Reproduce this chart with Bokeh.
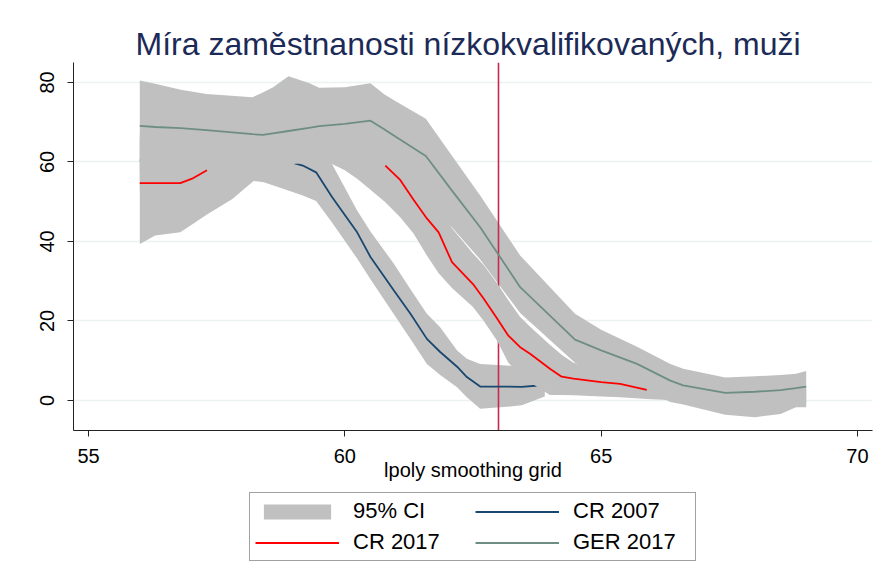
import numpy as np
from bokeh.plotting import figure
from bokeh.layouts import column
from bokeh.models import Range1d, FixedTicker, Legend, LegendItem
from bokeh.embed import file_html
from bokeh.resources import INLINE

NaN = float("nan")

title_text = "Míra zaměstnanosti nízkokvalifikovaných, muži"
x_label = "lpoly smoothing grid"
x_ticks = [55, 60, 65, 70]
y_ticks = [0, 20, 40, 60, 80]
cutoff_age = [63]
legend_labels = ["95% CI", "CR 2007", "CR 2017", "GER 2017"]

# CR 2007
age_cr07 = [56.0, 57.0, 58.0, 58.22, 58.42, 58.81, 59.18, 59.44, 59.75, 60.24, 60.5,
            60.95, 61.28, 61.6, 61.86, 62.19, 62.38, 62.64, 63.16, 63.45, 63.9]
rate_cr07 = [60.4, 61.0, 61.5, 61.5, 61.3, 60.4, 59.1, 57.4, 51.2, 42.3, 36.1,
             27.8, 21.8, 15.5, 12.2, 8.5, 5.9, 3.5, 3.5, 3.4, 3.9]
lo_cr07 = [53.0, 53.8, 54.3, 55.2, 54.9, 53.2, 51.6, 50.2, 44.8, 35.7, 30.5,
           21.8, 15.5, 9.2, 6.4, 3.3, 0.8, -2.1, -1.6, -1.2, 1.0]
hi_cr07 = [67.0, 67.5, 68.0, 68.0, 67.5, 66.0, 64.0, 61.5, 59.5, 47.8, 42.5,
           34.5, 28.0, 21.8, 18.4, 12.6, 10.5, 9.2, 8.8, 8.5, 8.0]

# CR 2017 (line hidden behind the bands where not visible -> missing)
age_cr17 = [56.0, 56.3, 56.79, 57.02, 57.31, 57.8, 58.22, 58.6, 59.0, 59.4, 59.75,
            60.0, 60.24, 60.5, 60.79, 61.08, 61.34, 61.6, 61.83, 62.09, 62.5, 62.71,
            62.97, 63.19, 63.42, 63.62, 64.0, 64.23, 64.46, 65.0, 65.37, 65.89, 66.5,
            67.0, 68.0, 68.75, 69.0]
rate_cr17 = [54.7, 54.7, 54.7, 55.8, 57.9, NaN, NaN, NaN, NaN, NaN, NaN,
             NaN, NaN, NaN, 59.1, 55.5, 50.5, 45.8, 42.3, 34.8, 29.3, 25.6,
             20.6, 16.3, 13.4, 11.7, 8.0, 6.0, 5.5, 4.6, 4.2, 2.7, NaN,
             NaN, NaN, NaN, NaN]
lo_cr17 = [39.4, 41.5, 42.3, 44.3, 46.8, 50.6, 55.2, 58.0, 59.5, 60.0, 59.5,
           57.9, 55.8, 53.0, 49.9, 46.1, 42.0, 36.5, 32.0, 28.3, 23.5, 20.0,
           15.0, 9.5, 6.5, 4.5, 1.4, 1.35, 1.3, 1.0, 0.8, 0.4, 0.0,
           -0.8, -1.5, -1.3, -1.0]
hi_cr17 = [66.0, 66.0, 66.0, 66.0, 66.0, 66.0, 66.0, 66.0, 66.5, 67.0, 67.5,
           67.5, 67.5, 67.5, 67.0, 65.0, 60.0, 55.0, 50.0, 43.3, 37.0, 34.0,
           29.5, 25.2, 21.0, 18.5, 14.0, 11.5, 9.5, 8.0, 7.0, 5.5, 4.5,
           3.8, 3.2, 3.0, 3.0]

# GER 2017
age_ger = [56.0, 56.3, 56.8, 57.3, 58.2, 58.4, 58.6, 58.9, 59.3, 59.5, 60.0, 60.5,
           60.76, 61.0, 61.58, 62.09, 62.64, 63.42, 64.49, 65.0, 65.7, 66.35, 66.6,
           67.42, 68.0, 68.5, 68.8, 69.0]
rate_ger = [69.1, 68.8, 68.5, 68.0, 67.0, 66.8, 67.2, 67.8, 68.6, 69.0, 69.6, 70.4,
            68.3, 66.3, 61.5, 52.8, 43.6, 28.5, 15.3, 12.6, 9.2, 5.0, 3.8,
            1.9, 2.2, 2.6, 3.1, 3.5]
lo_ger = [57.5, 57.6, 57.8, 58.0, 58.3, 58.5, 58.7, 59.0, 59.4, 59.6, 60.2, 61.0,
          60.0, 58.0, 52.5, 43.5, 35.5, 22.0, 9.5, 6.5, 3.6, -0.4, -1.0,
          -3.6, -4.2, -3.4, -1.7, -1.7]
hi_ger = [80.5, 79.7, 78.2, 77.1, 76.3, 77.5, 78.8, 81.6, 79.9, 78.7, 78.8, 79.8,
          77.1, 75.2, 70.9, 61.6, 51.6, 36.5, 21.8, 17.8, 13.5, 9.2, 8.0,
          5.8, 6.1, 6.4, 6.7, 7.4]

BAND = "#c0c0c0"
C07 = "#1a476f"
C17 = "#ff0000"
CGER = "#6e8e84"
VLINE = "#c8284e"
FONT = "Liberation Sans"
LW = 1.8

p = figure(width=878, height=490, output_backend="svg", toolbar_location=None,
           x_range=Range1d(54.707, 70.293), y_range=Range1d(-7.55, 85.03),
           min_border_left=73, min_border_right=6, min_border_top=62, min_border_bottom=60,
           title=title_text)
p.background_fill_color = "white"
p.border_fill_color = "white"
p.outline_line_color = None

p.title.align = "left"
p.title.offset = 62
p.title.text_font = FONT
p.title.text_font_size = "32px"
p.title.text_font_style = "normal"
p.title.text_color = "#1c2a57"
p.title.standoff = 2

p.xgrid.grid_line_color = None
p.ygrid.grid_line_color = "#eaf2f3"
p.ygrid.grid_line_width = 1.5

for ax in (p.xaxis, p.yaxis):
    ax.axis_line_color = "#222222"
    ax.axis_line_width = 1
    ax.major_tick_line_color = "#222222"
    ax.major_tick_out = 6
    ax.major_tick_in = 0
    ax.minor_tick_line_color = None
    ax.major_label_text_font = FONT
    ax.major_label_text_font_size = "20px"
    ax.major_label_text_color = "black"

p.xaxis.ticker = FixedTicker(ticks=x_ticks)
p.yaxis.ticker = FixedTicker(ticks=y_ticks)
p.yaxis.major_label_orientation = "vertical"
p.yaxis.major_label_standoff = 13
p.xaxis.major_label_standoff = 12
p.xaxis.axis_label = x_label
p.xaxis.axis_label_text_font = FONT
p.xaxis.axis_label_text_font_size = "20px"
p.xaxis.axis_label_text_font_style = "normal"
p.xaxis.axis_label_text_color = "black"
p.xaxis.axis_label_standoff = -7

x07, y07, l07, h07 = map(np.array, (age_cr07, rate_cr07, lo_cr07, hi_cr07))
x17, y17, l17, h17 = map(np.array, (age_cr17, rate_cr17, lo_cr17, hi_cr17))
xg, yg, lg, hg = map(np.array, (age_ger, rate_ger, lo_ger, hi_ger))

p.varea(x=x07, y1=l07, y2=h07, fill_color=BAND, fill_alpha=1)
p.varea(x=xg, y1=lg, y2=hg, fill_color=BAND, fill_alpha=1)
p.vspan(x=cutoff_age, line_color=VLINE, line_width=1.6)
p.line(x07, y07, line_color=C07, line_width=LW)
p.varea(x=x17, y1=l17, y2=h17, fill_color=BAND, fill_alpha=1)
p.line(x17, y17, line_color=C17, line_width=LW)
p.line(xg, yg, line_color=CGER, line_width=LW)

# legend strip below the chart: same series, drawn outside its (empty) view
q = figure(width=878, height=86, output_backend="svg", toolbar_location=None,
           x_range=Range1d(54.707, 70.293), y_range=Range1d(1000, 1001),
           x_axis_type=None, y_axis_type=None,
           min_border_left=0, min_border_right=0, min_border_top=0, min_border_bottom=0)
q.outline_line_color = None
q.xgrid.grid_line_color = None
q.ygrid.grid_line_color = None
q.background_fill_color = "white"
q.border_fill_color = "white"

k_band = q.varea(x=xg, y1=lg, y2=hg, fill_color=BAND, fill_alpha=1)
k07 = q.line(x07, y07, line_color=C07, line_width=LW)
k17 = q.line(x17, y17, line_color=C17, line_width=LW)
kger = q.line(xg, yg, line_color=CGER, line_width=LW)

legend = Legend(items=[
    LegendItem(label=legend_labels[0], renderers=[k_band]),
    LegendItem(label=legend_labels[1], renderers=[k07]),
    LegendItem(label=legend_labels[2], renderers=[k17]),
    LegendItem(label=legend_labels[3], renderers=[kger]),
], orientation="horizontal", ncols=2, location=(176, 15))
legend.label_text_font = FONT
legend.label_text_font_size = "22px"
legend.label_text_color = "black"
legend.glyph_width = 84
legend.glyph_height = 19
legend.label_height = 19
legend.label_width = 117
legend.label_standoff = 14
legend.spacing = 5
legend.padding = 5
legend.margin = 0
legend.border_line_color = "#444444"
legend.border_line_width = 1.5
legend.background_fill_color = "white"
legend.background_fill_alpha = 1
q.add_layout(legend)

layout = column(p, q, spacing=0)
open("out.html", "w").write(file_html(layout, INLINE))
